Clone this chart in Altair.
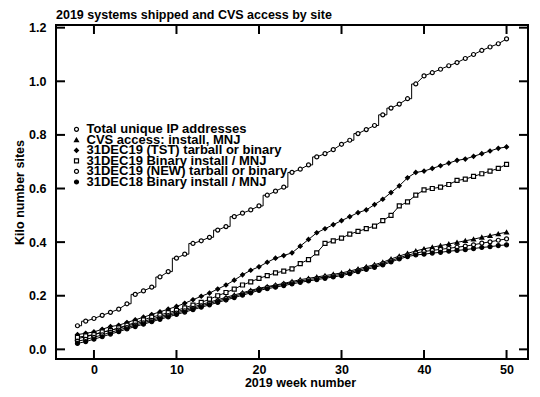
import altair as alt
import pandas as pd

# ---------------- data ----------------
weeks = list(range(-2, 51))

series_names = [
    "Total unique IP addresses",
    "CVS access: install, MNJ",
    "31DEC19 (TST) tarball or binary",
    "31DEC19 Binary install / MNJ",
    "31DEC19 (NEW) tarball or binary",
    "31DEC18 Binary install / MNJ",
]

total_ip = [0.088, 0.105, 0.115, 0.127, 0.138, 0.150, 0.170, 0.205, 0.218, 0.232,
            0.270, 0.290, 0.340, 0.355, 0.395, 0.405, 0.418, 0.445, 0.458, 0.495,
            0.508, 0.520, 0.535, 0.575, 0.590, 0.605, 0.660, 0.672, 0.688, 0.718,
            0.730, 0.745, 0.765, 0.780, 0.805, 0.820, 0.835, 0.875, 0.900, 0.915,
            0.935, 0.990, 1.020, 1.032, 1.045, 1.058, 1.070, 1.085, 1.100, 1.115,
            1.128, 1.140, 1.158]
# weeks after which the total curve jumps (drawn as a step)
total_jump_after = [-2, 4, 7, 9, 11, 14, 16, 20, 23, 26, 31, 34, 35, 38]

cvs_access = [0.040, 0.047, 0.055, 0.063, 0.071, 0.079, 0.087, 0.095, 0.104, 0.113,
              0.122, 0.131, 0.140, 0.149, 0.158, 0.167, 0.176, 0.185, 0.194, 0.203,
              0.211, 0.220, 0.228, 0.234, 0.240, 0.246, 0.253, 0.260, 0.265, 0.270,
              0.275, 0.280, 0.285, 0.292, 0.300, 0.308, 0.316, 0.325, 0.337, 0.348,
              0.358, 0.367, 0.375, 0.381, 0.387, 0.393, 0.399, 0.405, 0.411, 0.418,
              0.424, 0.431, 0.437]

tst_tarball = [0.055, 0.060, 0.065, 0.075, 0.085, 0.090, 0.100, 0.110, 0.120, 0.130,
               0.140, 0.150, 0.160, 0.172, 0.185, 0.198, 0.210, 0.225, 0.240, 0.258,
               0.278, 0.295, 0.308, 0.325, 0.340, 0.350, 0.360, 0.385, 0.410, 0.435,
               0.450, 0.465, 0.480, 0.495, 0.510, 0.520, 0.540, 0.560, 0.585, 0.610,
               0.640, 0.660, 0.665, 0.675, 0.685, 0.695, 0.705, 0.710, 0.720, 0.730,
               0.740, 0.750, 0.755]

binary_19 = [0.045, 0.050, 0.055, 0.065, 0.070, 0.080, 0.090, 0.100, 0.110, 0.120,
             0.128, 0.137, 0.145, 0.155, 0.165, 0.175, 0.187, 0.200, 0.212, 0.225,
             0.240, 0.252, 0.265, 0.275, 0.285, 0.292, 0.300, 0.320, 0.335, 0.360,
             0.395, 0.405, 0.415, 0.430, 0.440, 0.450, 0.460, 0.480, 0.500, 0.535,
             0.550, 0.575, 0.595, 0.600, 0.605, 0.615, 0.630, 0.635, 0.645, 0.655,
             0.665, 0.675, 0.690]

new_tarball = [0.030, 0.037, 0.045, 0.054, 0.063, 0.072, 0.081, 0.090, 0.099, 0.108,
               0.117, 0.126, 0.135, 0.144, 0.153, 0.162, 0.171, 0.180, 0.189, 0.198,
               0.207, 0.216, 0.225, 0.231, 0.237, 0.243, 0.249, 0.255, 0.260, 0.265,
               0.270, 0.275, 0.280, 0.287, 0.295, 0.303, 0.311, 0.320, 0.331, 0.342,
               0.351, 0.359, 0.365, 0.369, 0.373, 0.377, 0.381, 0.385, 0.390, 0.396,
               0.401, 0.407, 0.412]

binary_18 = [0.022, 0.029, 0.038, 0.047, 0.057, 0.066, 0.076, 0.085, 0.094, 0.103,
             0.112, 0.121, 0.130, 0.139, 0.148, 0.157, 0.166, 0.175, 0.184, 0.193,
             0.202, 0.211, 0.220, 0.226, 0.232, 0.238, 0.244, 0.250, 0.255, 0.260,
             0.265, 0.270, 0.275, 0.282, 0.290, 0.298, 0.306, 0.315, 0.326, 0.337,
             0.346, 0.352, 0.355, 0.359, 0.362, 0.366, 0.369, 0.372, 0.376, 0.380,
             0.383, 0.387, 0.390]

x_tick_values = [0, 10, 20, 30, 40, 50]
y_tick_values = [0.0, 0.2, 0.4, 0.6, 0.8, 1.0, 1.2]

series_shapes = ["circle", "triangle-up", "diamond", "square", "circle", "circle"]
series_fills = ["white", "black", "black", "white", "white", "black"]

# ---------------- tables ----------------
all_values = [total_ip, cvs_access, tst_tarball, binary_19, new_tarball, binary_18]

pts_rows = []
line_rows = []
for name, vals in zip(series_names, all_values):
    idx = 0
    for i, (w, v) in enumerate(zip(weeks, vals)):
        pts_rows.append({"week": w, "value": v, "series": name})
        line_rows.append({"week": w, "value": v, "series": name, "idx": idx})
        idx += 1
        if name == series_names[0] and w in total_jump_after and i + 1 < len(vals):
            line_rows.append({"week": w + 0.5, "value": v, "series": name, "idx": idx})
            idx += 1
            line_rows.append({"week": w + 0.5, "value": vals[i + 1], "series": name, "idx": idx})
            idx += 1

pts = pd.DataFrame(pts_rows)
lines = pd.DataFrame(line_rows)
xt = pd.DataFrame({"v": x_tick_values})
yt = pd.DataFrame({"v": y_tick_values})
leg = pd.DataFrame({"series": series_names})

W, H = 472, 334
FONT = "Liberation Sans"
FS = 12.5
LFS = 13

xscale = alt.Scale(domain=[-4.6, 52.6], nice=False, zero=False)
yscale = alt.Scale(domain=[-0.036, 1.21], nice=False, zero=False)
shape_scale = alt.Scale(domain=series_names, range=series_shapes)
fill_scale = alt.Scale(domain=series_names, range=series_fills)

xaxis = alt.Axis(values=x_tick_values, ticks=False, domain=False, grid=False,
                 labelFont=FONT, labelFontSize=FS, labelFontWeight="bold", labelColor="black",
                 labelPadding=4, title="2019 week number", titleFont=FONT, titleFontSize=FS,
                 titleFontWeight="bold", titleColor="black", titlePadding=1, titleX=244)
yaxis = alt.Axis(values=y_tick_values, format=".1f", ticks=False, domain=False, grid=False,
                 labelFont=FONT, labelFontSize=FS, labelFontWeight="bold", labelColor="black",
                 labelPadding=10, title="Kilo number sites", titleFont=FONT, titleFontSize=FS,
                 titleFontWeight="bold", titleColor="black", titlePadding=2)

point_style = dict(filled=False, size=16, stroke="black", strokeWidth=1.2, opacity=1,
                   fillOpacity=1)

line_layer = alt.Chart(lines).mark_line(color="black", strokeWidth=1).encode(
    x=alt.X("week:Q", scale=xscale, axis=xaxis),
    y=alt.Y("value:Q", scale=yscale, axis=yaxis),
    detail="series:N",
    order="idx:Q",
)

point_layer = alt.Chart(pts).mark_point(**point_style).encode(
    x=alt.X("week:Q", scale=xscale),
    y=alt.Y("value:Q", scale=yscale),
    shape=alt.Shape("series:N", scale=shape_scale, legend=None),
    fill=alt.Fill("series:N", scale=fill_scale, legend=None),
)

TL = 9
xt_bottom = alt.Chart(xt).mark_rule(color="black", strokeWidth=2).encode(
    x=alt.X("v:Q", scale=xscale), y=alt.value(H), y2=alt.value(H - TL))
xt_top = alt.Chart(xt).mark_rule(color="black", strokeWidth=2).encode(
    x=alt.X("v:Q", scale=xscale), y=alt.value(0), y2=alt.value(TL))
yt_left = alt.Chart(yt).mark_rule(color="black", strokeWidth=2).encode(
    y=alt.Y("v:Q", scale=yscale), x=alt.value(0), x2=alt.value(TL))
yt_right = alt.Chart(yt).mark_rule(color="black", strokeWidth=2).encode(
    y=alt.Y("v:Q", scale=yscale), x=alt.value(W), x2=alt.value(W - TL))

main = alt.layer(line_layer, point_layer, xt_bottom, xt_top, yt_left, yt_right)

# legend drawn inside the plot, rows spaced on a point scale
leg_y = alt.Y("series:N", scale=alt.Scale(type="point", domain=series_names,
                                          range=[104.3, 157], padding=0), axis=None)
leg_pts = alt.Chart(leg).mark_point(**point_style).encode(
    x=alt.value(20.5), y=leg_y,
    shape=alt.Shape("series:N", scale=shape_scale, legend=None),
    fill=alt.Fill("series:N", scale=fill_scale, legend=None),
)
leg_txt = alt.Chart(leg).mark_text(align="left", baseline="middle", font=FONT,
                                   fontSize=LFS, fontWeight="bold", color="black").encode(
    x=alt.value(30.5), y=leg_y, text="series:N")
legend = alt.layer(leg_pts, leg_txt)

chart = alt.layer(main, legend).resolve_scale(y="independent").properties(
    width=W, height=H, background="white",
    autosize=alt.AutoSizeParams(type="none"),
    padding={"left": 48, "top": 17, "right": 4, "bottom": 32},
    title=alt.TitleParams("2019 systems shipped and CVS access by site", anchor="start",
                          frame="group", font=FONT, fontSize=FS, fontWeight="bold",
                          color="black", offset=0),
).configure_view(
    stroke="black", strokeWidth=2
)

chart.save("out.html", embed_options={"renderer": "svg", "actions": False})
